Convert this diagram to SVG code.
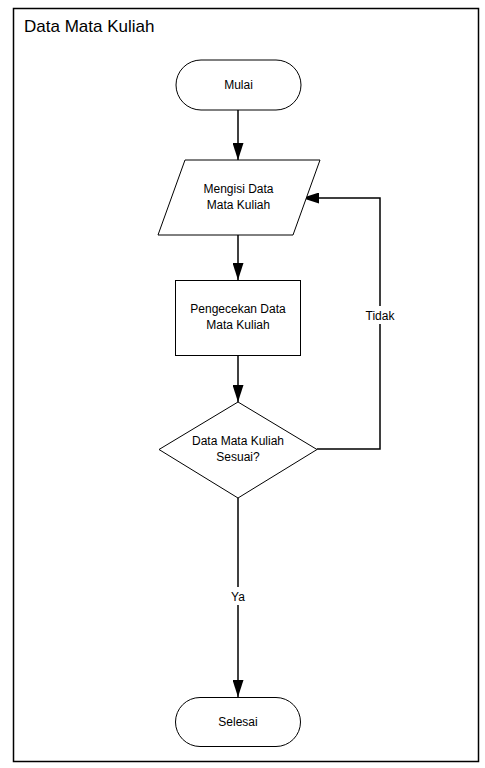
<svg xmlns="http://www.w3.org/2000/svg" width="485" height="768" viewBox="0 0 485 768">
<defs>
<style>
.s{fill:#fff;stroke:#000;stroke-width:1}
.t{font-family:"Liberation Sans",Arial,sans-serif;font-size:12px;fill:#000;text-anchor:middle}
.c{fill:none;stroke:#000;stroke-width:1.5}
</style>
<marker id="ah" markerWidth="17" markerHeight="11" refX="17" refY="5.5" orient="auto" markerUnits="userSpaceOnUse" viewBox="0 0 17 11">
<path d="M0,0 L17,5.5 L0,11 Z" fill="#000"/>
</marker>
</defs>
<rect width="485" height="768" fill="#fff"/>
<g id="frame">
<rect x="13.5" y="8.5" width="465" height="753" fill="#fff" stroke="#000" stroke-width="1.5"/>
<text x="24" y="32" style="font-family:'Liberation Sans',Arial,sans-serif;font-size:17px;fill:#000">Data Mata Kuliah</text>
</g>
<g id="connectors">
<path class="c" d="M238,110 V160" marker-end="url(#ah)"/>
<path class="c" d="M238,235 V280" marker-end="url(#ah)"/>
<path class="c" d="M238,355 V402" marker-end="url(#ah)"/>
<path class="c" d="M317,449 H380 V198 H302" marker-end="url(#ah)"/>
<path class="c" d="M238,498 V697" marker-end="url(#ah)"/>
<rect x="362" y="306" width="36" height="18" fill="#fff"/>
<text class="t" x="380" y="320">Tidak</text>
<rect x="228" y="587" width="20" height="18" fill="#fff"/>
<text class="t" x="238" y="601">Ya</text>
</g>
<g id="mulai">
<rect class="s" x="176" y="60" width="125" height="50" rx="25" ry="25"/>
<text class="t" x="238.5" y="89">Mulai</text>
</g>
<g id="input">
<polygon class="s" points="185,160 320,160 293,235 158,235"/>
<text class="t" x="238.5" y="193">Mengisi Data</text>
<text class="t" x="238.5" y="209">Mata Kuliah</text>
</g>
<g id="proses">
<rect class="s" x="175.5" y="280.5" width="125" height="75"/>
<text class="t" x="238" y="313">Pengecekan Data</text>
<text class="t" x="238" y="329">Mata Kuliah</text>
</g>
<g id="keputusan">
<polygon class="s" points="238,402 317,449.5 238,498 159,449.5"/>
<text class="t" x="238" y="445">Data Mata Kuliah</text>
<text class="t" x="238" y="461">Sesuai?</text>
</g>
<g id="selesai">
<rect class="s" x="175.5" y="697.5" width="125" height="49" rx="24.5" ry="24.5"/>
<text class="t" x="238" y="726">Selesai</text>
</g>
</svg>
